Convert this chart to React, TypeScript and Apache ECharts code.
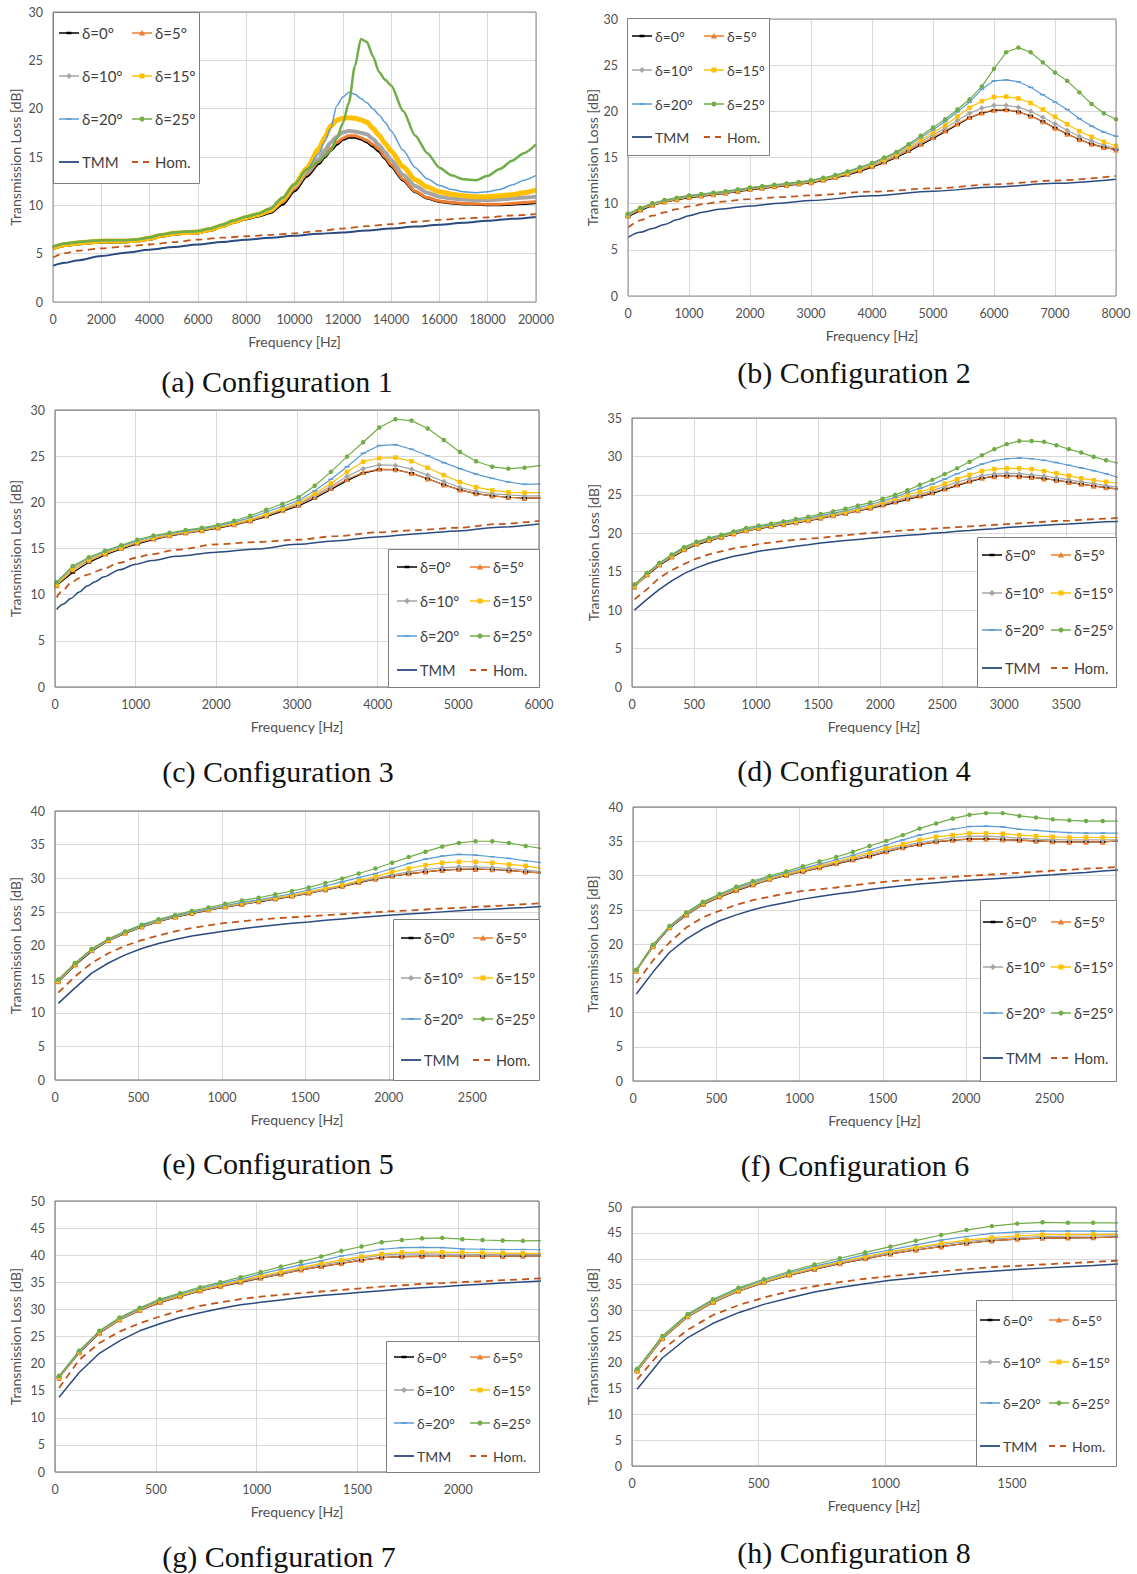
import { useEffect, useRef } from 'react';
import * as echarts from 'echarts';

// ---------------- DATA ----------------
// Configuration 1
const c1Freq = [0,500,1000,1500,2000,2500,3000,3500,4000,4500,5000,5500,6000,6500,7000,7500,8000,8500,9000,9500,10000,10500,11000,11250,11500,11750,12000,12250,12500,12750,13000,13250,13500,13750,14000,14500,15000,15500,16000,16500,17000,17500,18000,18500,19000,19500,20000];
const c1D0 = [5.5,5.85,6.0,6.1,6.2,6.2,6.2,6.3,6.5,6.8,7.0,7.1,7.15,7.4,7.8,8.25,8.6,8.9,9.25,10.1,11.5,13.0,14.3,15.0,15.7,16.3,16.8,17.05,17.05,16.85,16.55,16.1,15.6,14.85,14.05,12.6,11.4,10.75,10.4,10.25,10.15,10.1,10.05,10.05,10.1,10.2,10.3];
const c1D5 = [5.55,5.9,6.05,6.15,6.25,6.25,6.25,6.35,6.55,6.85,7.05,7.15,7.2,7.45,7.85,8.3,8.7,9.0,9.35,10.3,11.7,13.2,14.5,15.2,15.9,16.5,16.95,17.2,17.2,17.0,16.7,16.3,15.8,15.0,14.2,12.7,11.45,10.8,10.45,10.3,10.2,10.15,10.1,10.1,10.2,10.3,10.4];
const c1D10 = [5.6,5.95,6.1,6.2,6.3,6.3,6.3,6.4,6.6,6.9,7.1,7.2,7.25,7.5,7.9,8.35,8.75,9.05,9.5,10.5,11.9,13.4,14.8,15.7,16.5,17.1,17.55,17.7,17.65,17.5,17.35,16.85,16.25,15.5,14.7,13.15,12.0,11.3,10.9,10.7,10.6,10.55,10.55,10.6,10.7,10.8,10.9];
const c1D15 = [5.6,5.95,6.1,6.2,6.3,6.3,6.3,6.4,6.6,6.9,7.1,7.2,7.25,7.5,7.9,8.35,8.75,9.05,9.5,10.6,12.1,13.8,15.8,17.0,18.2,18.8,19.0,19.05,19.0,18.85,18.6,17.95,17.25,16.4,15.6,14.0,12.65,11.9,11.4,11.15,11.0,10.9,10.9,11.0,11.1,11.3,11.6];
const c1D20 = [5.65,6.0,6.15,6.25,6.35,6.35,6.35,6.45,6.65,6.95,7.15,7.25,7.3,7.55,7.95,8.4,8.8,9.1,9.6,10.7,12.1,13.7,15.3,16.6,18.0,20.3,21.2,21.7,21.5,21.05,20.6,20.0,19.35,18.6,17.7,15.7,13.9,12.75,12.05,11.65,11.4,11.3,11.4,11.65,12.1,12.6,13.1];
const c1D25 = [5.75,6.05,6.2,6.3,6.4,6.4,6.4,6.5,6.7,7.0,7.2,7.3,7.35,7.6,8.0,8.45,8.85,9.15,9.7,10.8,12.2,13.7,14.5,15.1,15.7,16.9,18.5,20.6,24.4,27.2,26.9,25.4,23.8,23.0,22.4,19.75,17.2,15.4,13.9,13.1,12.7,12.6,13.05,13.75,14.6,15.4,16.3];
const c1Ref = [0,500,1000,2000,3000,4000,5000,6000,7000,8000,9000,10000,11000,12000,13000,14000,15000,16000,17000,18000,19000,20000];
const c1Tmm = [3.75,4.05,4.3,4.75,5.1,5.4,5.7,5.95,6.2,6.45,6.65,6.85,7.05,7.2,7.4,7.6,7.8,8.0,8.2,8.4,8.6,8.8];
const c1Hom = [4.6,5.05,5.3,5.55,5.75,5.95,6.2,6.45,6.65,6.8,6.95,7.1,7.35,7.6,7.85,8.05,8.3,8.5,8.65,8.75,8.95,9.1];

// Configuration 2
const c2Freq = [0,200,400,600,800,1000,1200,1400,1600,1800,2000,2200,2400,2600,2800,3000,3200,3400,3600,3800,4000,4200,4400,4600,4800,5000,5200,5400,5600,5800,6000,6200,6400,6600,6800,7000,7200,7400,7600,7800,8000];
const c2D0 = [8.6,9.25,9.8,10.15,10.4,10.65,10.8,10.95,11.1,11.3,11.5,11.65,11.8,11.95,12.1,12.25,12.5,12.8,13.1,13.5,13.95,14.45,15.0,15.65,16.35,17.05,17.8,18.55,19.3,19.8,20.1,20.15,19.95,19.5,18.9,18.2,17.55,16.95,16.45,16.1,15.85];
const c2D5 = [8.7,9.35,9.85,10.2,10.45,10.7,10.85,11.0,11.15,11.35,11.55,11.7,11.85,12.0,12.15,12.3,12.55,12.85,13.2,13.6,14.05,14.55,15.1,15.8,16.5,17.2,17.9,18.65,19.35,19.85,20.15,20.2,19.95,19.5,18.9,18.2,17.55,16.95,16.45,16.1,15.85];
const c2D10 = [8.75,9.4,9.9,10.25,10.5,10.75,10.9,11.05,11.2,11.4,11.6,11.75,11.9,12.05,12.2,12.35,12.6,12.9,13.25,13.7,14.15,14.65,15.25,15.95,16.7,17.45,18.2,19.0,19.8,20.35,20.65,20.65,20.45,20.0,19.35,18.65,17.95,17.3,16.8,16.35,16.0];
const c2D15 = [8.75,9.45,9.95,10.3,10.55,10.8,10.95,11.1,11.25,11.45,11.65,11.8,11.95,12.1,12.25,12.4,12.65,12.95,13.3,13.75,14.2,14.75,15.35,16.1,16.9,17.7,18.5,19.45,20.4,21.1,21.55,21.6,21.4,20.9,20.2,19.4,18.6,17.85,17.25,16.7,16.25];
const c2D20 = [8.85,9.5,10.0,10.35,10.6,10.85,11.0,11.15,11.3,11.5,11.7,11.85,12.0,12.15,12.3,12.5,12.75,13.05,13.45,13.9,14.3,14.9,15.5,16.3,17.15,18.0,18.9,19.95,21.0,22.4,23.3,23.4,23.2,22.6,21.8,21.0,20.2,19.2,18.4,17.75,17.3];
const c2D25 = [8.9,9.55,10.05,10.4,10.65,10.9,11.05,11.2,11.35,11.55,11.75,11.9,12.05,12.2,12.35,12.55,12.8,13.1,13.5,13.95,14.4,15.0,15.6,16.45,17.35,18.25,19.15,20.2,21.3,22.7,24.6,26.4,26.9,26.4,25.3,24.2,23.3,22.05,20.8,19.8,19.15];
const c2Ref = [0,200,400,600,800,1000,1250,1500,2000,2500,3000,4000,5000,6000,7000,8000];
const c2Tmm = [6.35,6.9,7.3,7.75,8.25,8.7,9.1,9.4,9.75,10.05,10.35,10.85,11.35,11.8,12.2,12.65];
const c2Hom = [7.4,8.2,8.7,9.05,9.4,9.7,9.95,10.2,10.5,10.7,10.9,11.3,11.65,12.1,12.5,13.0];

// Configuration 3
const c3Freq = [20,220,420,620,820,1020,1220,1420,1620,1820,2020,2220,2420,2620,2820,3020,3220,3420,3620,3820,4020,4220,4420,4620,4820,5020,5220,5420,5620,5820,6020];
const c3D0 = [11.0,12.4,13.5,14.3,14.95,15.5,15.95,16.35,16.65,16.9,17.2,17.55,17.95,18.45,19.05,19.6,20.45,21.4,22.35,23.15,23.55,23.55,23.15,22.55,21.9,21.35,20.95,20.7,20.55,20.45,20.45];
const c3D5 = [11.0,12.7,13.7,14.45,15.05,15.6,16.05,16.4,16.7,16.95,17.25,17.6,18.0,18.55,19.15,19.75,20.6,21.55,22.5,23.25,23.6,23.55,23.15,22.55,21.9,21.35,20.95,20.7,20.55,20.45,20.45];
const c3D10 = [11.1,12.75,13.75,14.5,15.05,15.65,16.1,16.45,16.75,17.0,17.3,17.65,18.1,18.6,19.2,19.85,20.75,21.75,22.8,23.65,24.05,24.0,23.6,22.95,22.25,21.6,21.2,20.95,20.8,20.7,20.7];
const c3D15 = [11.1,12.8,13.8,14.5,15.1,15.7,16.15,16.5,16.8,17.05,17.35,17.7,18.15,18.7,19.3,20.0,20.95,22.05,23.3,24.4,24.8,24.85,24.45,23.75,22.95,22.2,21.65,21.3,21.1,21.05,21.05];
const c3D20 = [11.3,13.0,13.95,14.65,15.25,15.85,16.3,16.6,16.9,17.15,17.45,17.85,18.35,18.95,19.55,20.2,21.25,22.5,23.85,25.3,26.15,26.25,25.75,25.05,24.3,23.65,23.05,22.6,22.2,21.95,22.0];
const c3D25 = [11.35,13.1,14.05,14.75,15.35,15.95,16.4,16.7,17.0,17.25,17.55,18.0,18.55,19.2,19.85,20.55,21.8,23.3,24.95,26.5,28.1,29.0,28.85,28.0,26.75,25.45,24.45,23.85,23.65,23.75,24.0];
const c3Ref = [20,100,200,300,400,500,600,800,1000,1200,1500,2000,2500,3000,3500,4000,4500,5000,5500,6000];
const c3Tmm = [8.4,8.95,9.6,10.3,10.95,11.4,11.9,12.7,13.3,13.7,14.15,14.6,14.95,15.45,15.85,16.25,16.6,16.9,17.3,17.65];
const c3Hom = [9.7,10.5,11.3,11.8,12.15,12.5,12.8,13.45,14.0,14.4,14.85,15.45,15.7,15.95,16.35,16.75,17.0,17.25,17.65,18.0];

// Configuration 4
const c4Freq = [20,120,220,320,420,520,620,720,820,920,1020,1120,1220,1320,1420,1520,1620,1720,1820,1920,2020,2120,2220,2320,2420,2520,2620,2720,2820,2920,3020,3120,3220,3320,3420,3520,3620,3720,3820,3920];
const c4D0 = [13.1,14.5,15.8,16.85,17.8,18.5,19.0,19.45,19.9,20.3,20.6,20.85,21.1,21.35,21.6,21.95,22.25,22.55,22.9,23.25,23.6,24.0,24.4,24.8,25.2,25.7,26.2,26.7,27.15,27.4,27.45,27.4,27.3,27.1,26.9,26.65,26.4,26.15,25.95,25.75];
const c4D5 = [13.0,14.6,15.9,16.95,17.9,18.6,19.1,19.5,19.95,20.35,20.65,20.9,21.15,21.4,21.65,22.0,22.3,22.6,22.95,23.3,23.7,24.1,24.5,24.9,25.3,25.8,26.3,26.8,27.2,27.4,27.45,27.4,27.3,27.1,26.9,26.65,26.4,26.15,25.95,25.75];
const c4D10 = [13.1,14.65,15.95,17.0,17.95,18.65,19.15,19.55,20.0,20.4,20.7,20.95,21.2,21.45,21.7,22.05,22.35,22.65,23.0,23.4,23.8,24.25,24.7,25.1,25.55,26.1,26.65,27.1,27.5,27.7,27.8,27.75,27.6,27.45,27.2,26.95,26.7,26.45,26.2,26.0];
const c4D15 = [13.15,14.7,16.0,17.05,18.0,18.7,19.2,19.6,20.05,20.45,20.75,21.0,21.3,21.55,21.8,22.15,22.45,22.75,23.1,23.5,24.0,24.5,25.0,25.4,25.85,26.45,27.05,27.6,28.1,28.35,28.45,28.45,28.35,28.1,27.8,27.5,27.15,26.9,26.7,26.5];
const c4D20 = [13.25,14.75,16.05,17.15,18.1,18.8,19.3,19.7,20.15,20.55,20.85,21.1,21.4,21.7,21.95,22.3,22.6,22.95,23.3,23.75,24.2,24.7,25.3,25.85,26.4,27.05,27.75,28.4,29.0,29.45,29.7,29.8,29.7,29.5,29.2,28.85,28.5,28.15,27.75,27.25];
const c4D25 = [13.35,14.85,16.15,17.25,18.2,18.9,19.4,19.8,20.25,20.7,21.0,21.25,21.55,21.85,22.15,22.5,22.85,23.2,23.6,24.0,24.5,25.0,25.6,26.3,26.95,27.7,28.45,29.3,30.15,30.95,31.6,32.0,32.0,31.9,31.45,30.95,30.5,29.95,29.5,29.1];
const c4Tmm = [10.0,11.4,12.7,13.8,14.75,15.5,16.1,16.6,17.0,17.3,17.65,17.9,18.1,18.3,18.5,18.75,18.9,19.05,19.2,19.35,19.5,19.6,19.75,19.85,20.0,20.1,20.25,20.35,20.5,20.6,20.75,20.85,20.95,21.05,21.15,21.2,21.3,21.4,21.5,21.55];
const c4Hom = [11.4,12.7,14.2,15.2,16.0,16.7,17.25,17.65,18.05,18.3,18.6,18.8,19.0,19.15,19.3,19.4,19.6,19.75,19.9,20.05,20.15,20.3,20.4,20.5,20.6,20.7,20.8,20.9,21.0,21.1,21.2,21.3,21.4,21.5,21.6,21.65,21.75,21.85,21.9,22.0];

// Configuration 5
const c5Freq = [20,120,220,320,420,520,620,720,820,920,1020,1120,1220,1320,1420,1520,1620,1720,1820,1920,2020,2120,2220,2320,2420,2520,2620,2720,2820,2920];
const c5D0 = [14.6,17.05,19.15,20.7,21.8,22.75,23.55,24.2,24.75,25.25,25.7,26.1,26.5,26.9,27.3,27.75,28.25,28.75,29.35,29.85,30.3,30.65,30.95,31.2,31.3,31.35,31.3,31.15,30.95,30.8];
const c5D5 = [14.65,17.15,19.25,20.75,21.85,22.8,23.6,24.25,24.8,25.3,25.75,26.15,26.55,26.95,27.35,27.8,28.3,28.8,29.4,29.9,30.35,30.7,30.95,31.2,31.35,31.35,31.3,31.15,30.95,30.8];
const c5D10 = [14.7,17.2,19.3,20.8,21.9,22.85,23.65,24.3,24.85,25.35,25.8,26.2,26.6,27.0,27.4,27.85,28.35,28.9,29.5,30.0,30.5,30.95,31.3,31.55,31.7,31.7,31.6,31.45,31.2,30.95];
const c5D15 = [14.75,17.25,19.35,20.85,21.95,22.9,23.7,24.35,24.9,25.4,25.85,26.3,26.7,27.1,27.5,28.0,28.5,29.0,29.65,30.25,30.95,31.45,31.95,32.3,32.45,32.45,32.3,32.05,31.85,31.45];
const c5D20 = [14.85,17.3,19.4,20.9,22.0,22.95,23.75,24.4,24.95,25.45,25.95,26.4,26.8,27.25,27.7,28.25,28.85,29.45,30.1,30.7,31.45,32.2,32.85,33.3,33.55,33.45,33.2,32.95,32.6,32.3];
const c5D25 = [14.95,17.4,19.5,21.0,22.1,23.1,23.9,24.55,25.15,25.65,26.2,26.7,27.1,27.6,28.1,28.65,29.3,29.95,30.7,31.45,32.3,33.15,33.95,34.7,35.25,35.5,35.5,35.25,34.8,34.4];
const c5Tmm = [11.4,13.7,15.9,17.4,18.6,19.55,20.3,20.9,21.4,21.8,22.15,22.5,22.8,23.05,23.3,23.5,23.75,23.95,24.15,24.35,24.55,24.7,24.85,25.0,25.15,25.3,25.4,25.55,25.65,25.8];
const c5Hom = [13.0,15.4,17.4,18.85,19.95,20.8,21.5,22.1,22.6,23.0,23.35,23.6,23.85,24.05,24.2,24.35,24.5,24.65,24.8,24.95,25.1,25.2,25.35,25.5,25.6,25.75,25.85,26.0,26.15,26.3];

// Configuration 6
const c6Freq = [20,120,220,320,420,520,620,720,820,920,1020,1120,1220,1320,1420,1520,1620,1720,1820,1920,2020,2120,2220,2320,2420,2520,2620,2720,2820,2920];
const c6D0 = [16.1,19.6,22.35,24.2,25.75,26.85,27.8,28.6,29.4,30.0,30.55,31.1,31.7,32.25,32.8,33.45,34.05,34.5,34.9,35.15,35.3,35.35,35.25,35.15,35.05,34.95,34.9,34.9,34.9,35.05];
const c6D5 = [16.05,19.65,22.4,24.25,25.8,26.9,27.85,28.65,29.45,30.05,30.6,31.15,31.75,32.3,32.85,33.5,34.1,34.55,34.95,35.2,35.3,35.35,35.25,35.15,35.05,34.95,34.9,34.9,34.9,35.05];
const c6D10 = [16.1,19.7,22.45,24.35,25.9,27.0,28.0,28.8,29.5,30.15,30.75,31.3,31.9,32.5,33.1,33.7,34.3,34.8,35.15,35.55,35.7,35.75,35.65,35.45,35.3,35.25,35.2,35.2,35.2,35.2];
const c6D15 = [16.15,19.75,22.5,24.45,26.0,27.1,28.1,28.9,29.6,30.25,30.85,31.45,32.05,32.7,33.35,34.0,34.55,35.2,35.65,35.9,36.15,36.15,36.1,35.9,35.75,35.65,35.55,35.55,35.55,35.55];
const c6D20 = [16.2,19.8,22.55,24.5,26.05,27.2,28.2,29.0,29.75,30.4,31.05,31.65,32.3,32.95,33.7,34.45,35.2,35.9,36.4,36.75,37.15,37.2,37.1,36.75,36.6,36.4,36.25,36.2,36.2,36.2];
const c6D25 = [16.25,19.9,22.65,24.6,26.15,27.3,28.35,29.2,29.95,30.6,31.35,32.05,32.7,33.45,34.3,35.05,35.9,36.85,37.6,38.3,38.85,39.1,39.1,38.7,38.45,38.2,38.05,37.95,37.95,37.95];
const c6Tmm = [12.7,15.9,18.8,20.7,22.2,23.4,24.25,25.0,25.6,26.05,26.55,26.95,27.3,27.6,27.95,28.25,28.5,28.75,28.95,29.15,29.3,29.45,29.6,29.75,29.95,30.1,30.3,30.45,30.65,30.8];
const c6Hom = [14.3,17.6,20.25,22.4,23.9,24.85,25.7,26.4,26.9,27.4,27.75,28.0,28.25,28.55,28.85,29.1,29.3,29.45,29.6,29.8,29.95,30.1,30.25,30.4,30.55,30.7,30.85,31.0,31.1,31.25];

// Configuration 7
const c7Freq = [20,120,220,320,420,520,620,720,820,920,1020,1120,1220,1320,1420,1520,1620,1720,1820,1920,2020,2120,2220,2320,2420];
const c7D0 = [17.4,22.0,25.6,28.05,29.8,31.25,32.35,33.4,34.2,35.0,35.75,36.5,37.3,37.9,38.5,39.1,39.55,39.75,39.8,39.8,39.8,39.8,39.8,39.85,39.85];
const c7D5 = [17.3,22.05,25.65,28.1,29.85,31.3,32.4,33.45,34.25,35.05,35.8,36.55,37.3,37.95,38.5,39.1,39.55,39.75,39.8,39.8,39.8,39.8,39.8,39.85,39.85];
const c7D10 = [17.45,22.15,25.8,28.2,29.95,31.45,32.5,33.55,34.4,35.2,36.0,36.75,37.5,38.2,38.8,39.45,40.0,40.2,40.25,40.2,40.15,40.15,40.1,40.1,40.1];
const c7D15 = [17.5,22.2,25.85,28.25,30.0,31.55,32.6,33.65,34.5,35.35,36.2,36.95,37.7,38.5,39.1,39.75,40.25,40.5,40.55,40.55,40.5,40.45,40.4,40.35,40.35];
const c7D20 = [17.6,22.25,25.9,28.35,30.15,31.7,32.8,33.85,34.75,35.6,36.55,37.4,38.2,38.95,39.85,40.5,41.1,41.4,41.45,41.4,41.15,41.1,41.05,41.05,41.0];
const c7D25 = [17.75,22.4,26.05,28.5,30.3,31.9,33.0,34.1,35.0,35.95,36.9,37.9,38.8,39.75,40.8,41.6,42.4,42.8,43.1,43.2,42.95,42.8,42.7,42.65,42.7];
const c7Tmm = [13.8,18.35,21.9,24.2,26.05,27.35,28.5,29.4,30.15,30.85,31.3,31.75,32.2,32.55,32.85,33.15,33.45,33.75,34.0,34.2,34.45,34.65,34.85,35.05,35.25];
const c7Hom = [15.5,20.7,23.8,25.9,27.45,28.7,29.75,30.65,31.3,31.9,32.35,32.7,33.0,33.3,33.6,33.9,34.2,34.45,34.7,34.85,35.05,35.2,35.4,35.55,35.75];

// Configuration 8
const c8Freq = [20,120,220,320,420,520,620,720,820,920,1020,1120,1220,1320,1420,1520,1620,1720,1820,1920];
const c8D0 = [18.3,24.55,28.8,31.55,33.75,35.4,36.8,37.95,39.05,40.0,40.95,41.7,42.35,43.0,43.5,43.8,44.0,44.05,44.1,44.25];
const c8D5 = [18.35,24.6,28.85,31.6,33.8,35.45,36.85,38.0,39.1,40.05,40.95,41.7,42.35,43.0,43.5,43.8,44.0,44.05,44.1,44.25];
const c8D10 = [18.45,24.75,28.95,31.7,33.9,35.55,36.95,38.15,39.25,40.25,41.2,42.0,42.75,43.3,43.8,44.1,44.3,44.35,44.4,44.45];
const c8D15 = [18.5,24.8,29.0,31.8,34.0,35.65,37.05,38.3,39.4,40.45,41.45,42.2,43.0,43.6,44.1,44.45,44.65,44.65,44.7,44.7];
const c8D20 = [18.7,24.95,29.15,32.0,34.2,35.85,37.3,38.6,39.65,40.8,41.75,42.7,43.6,44.3,44.9,45.2,45.35,45.35,45.35,45.3];
const c8D25 = [18.75,25.1,29.35,32.2,34.4,36.05,37.55,38.9,40.1,41.25,42.35,43.5,44.6,45.55,46.3,46.8,47.05,46.95,46.95,46.95];
const c8Tmm = [14.8,20.85,24.8,27.55,29.6,31.2,32.45,33.6,34.45,35.2,35.85,36.35,36.8,37.25,37.6,37.95,38.2,38.45,38.7,39.0];
const c8Hom = [16.7,22.45,26.3,29.15,31.05,32.5,33.75,34.7,35.5,36.15,36.65,37.1,37.55,38.0,38.4,38.65,38.9,39.15,39.4,39.65];

const SERIES_NAMES = ['δ=0°', 'δ=5°', 'δ=10°', 'δ=15°', 'δ=20°', 'δ=25°', 'TMM', 'Hom.'];
const CAPTIONS = ['(a) Configuration 1', '(b) Configuration 2', '(c) Configuration 3', '(d) Configuration 4',
  '(e) Configuration 5', '(f) Configuration 6', '(g) Configuration 7', '(h) Configuration 8'];
const X_TITLE = 'Frequency [Hz]';
const Y_TITLE = 'Transmission Loss [dB]';

// ---------------- STYLE / LAYOUT ----------------
const COLORS = ['#000000', '#ED7D31', '#A5A5A5', '#FFC000', '#5B9BD5', '#70AD47', '#2B4A80', '#C0561B'];
const SYMBOLS = ['rect', 'triangle', 'diamond', 'rect', 'rect', 'circle'];
const SYMBOL_SIZES: any[] = [[5, 2.5], 5.5, 5.5, 4.5, [5, 1.5], 4.5];
const DENSE_WIDTHS = [3, 3, 4, 5, 1.5, 2.5];
const SANS = 'Lato, "Noto Sans", "DejaVu Sans", sans-serif';
const SERIF = '"Liberation Serif", "DejaVu Serif", serif';

const PANELS = [
  { freq: c1Freq, ref: c1Ref, d: [c1D0, c1D5, c1D10, c1D15, c1D20, c1D25], tmm: c1Tmm, hom: c1Hom, xMax: 20000, xInt: 2000, yMax: 30, dense: true,
    grid: { left: 53, top: 12, width: 483, height: 290 }, yGap: 31, border: '#8c8c8c',
    lg: { x: 53, y: 12, w: 146, h: 171, rows: [33, 76, 119, 162], c1: 59, c2: 132, fs: 15 }, cap: [277, 381] },
  { freq: c2Freq, ref: c2Ref, d: [c2D0, c2D5, c2D10, c2D15, c2D20, c2D25], tmm: c2Tmm, hom: c2Hom, xMax: 8000, xInt: 1000, yMax: 30, dense: false,
    grid: { left: 628, top: 19, width: 488, height: 277 }, yGap: 29, border: '#8c8c8c',
    lg: { x: 627, y: 18, w: 142, h: 137, rows: [36, 70, 104, 137], c1: 632, c2: 704, fs: 14 }, cap: [854, 372] },
  { freq: c3Freq, ref: c3Ref, d: [c3D0, c3D5, c3D10, c3D15, c3D20, c3D25], tmm: c3Tmm, hom: c3Hom, xMax: 6000, xInt: 1000, yMax: 30, dense: false,
    grid: { left: 55, top: 410, width: 484, height: 277 }, yGap: 33, border: '#6b6b6b',
    lg: { x: 388, y: 549, w: 151, h: 138, rows: [567, 601, 636, 670], c1: 397, c2: 470, fs: 14.5 }, cap: [278, 771] },
  { freq: c4Freq, ref: c4Freq, d: [c4D0, c4D5, c4D10, c4D15, c4D20, c4D25], tmm: c4Tmm, hom: c4Hom, xMax: 3900, xInt: 500, yMax: 35, dense: false,
    grid: { left: 632, top: 418, width: 484, height: 269 }, yGap: 32, border: '#6b6b6b',
    lg: { x: 977, y: 537, w: 139, h: 150, rows: [555, 593, 630, 668], c1: 982, c2: 1051, fs: 14.5 }, cap: [854, 770] },
  { freq: c5Freq, ref: c5Freq, d: [c5D0, c5D5, c5D10, c5D15, c5D20, c5D25], tmm: c5Tmm, hom: c5Hom, xMax: 2900, xInt: 500, yMax: 40, dense: false,
    grid: { left: 55, top: 811, width: 484, height: 269 }, yGap: 33, border: '#6b6b6b',
    lg: { x: 393, y: 919, w: 146, h: 161, rows: [938, 978, 1019, 1060], c1: 401, c2: 473, fs: 14.5 }, cap: [278, 1163] },
  { freq: c6Freq, ref: c6Freq, d: [c6D0, c6D5, c6D10, c6D15, c6D20, c6D25], tmm: c6Tmm, hom: c6Hom, xMax: 2900, xInt: 500, yMax: 40, dense: false,
    grid: { left: 633, top: 807, width: 483, height: 274 }, yGap: 33.5, border: '#6b6b6b',
    lg: { x: 980, y: 900, w: 136, h: 181, rows: [922, 967, 1013, 1058], c1: 983, c2: 1051, fs: 14.5 }, cap: [855, 1165] },
  { freq: c7Freq, ref: c7Freq, d: [c7D0, c7D5, c7D10, c7D15, c7D20, c7D25], tmm: c7Tmm, hom: c7Hom, xMax: 2400, xInt: 500, yMax: 50, dense: false,
    grid: { left: 55, top: 1201, width: 484, height: 271 }, yGap: 33, border: '#6b6b6b',
    lg: { x: 386, y: 1341, w: 153, h: 131, rows: [1357, 1390, 1423, 1456], c1: 394, c2: 470, fs: 14 }, cap: [279, 1556] },
  { freq: c8Freq, ref: c8Freq, d: [c8D0, c8D5, c8D10, c8D15, c8D20, c8D25], tmm: c8Tmm, hom: c8Hom, xMax: 1910, xInt: 500, yMax: 50, dense: false,
    grid: { left: 632, top: 1207, width: 484, height: 259 }, yGap: 33, border: '#6b6b6b',
    lg: { x: 976, y: 1300, w: 140, h: 166, rows: [1320, 1362, 1403, 1446], c1: 980, c2: 1049, fs: 14 }, cap: [854, 1552] },
];

function legendMarker(k: number, cx: number, cy: number) {
  const fill = COLORS[k];
  const z = 102;
  switch (k) {
    case 0: return { type: 'rect', z, shape: { x: cx - 2.5, y: cy - 1.25, width: 5, height: 2.5 }, style: { fill } };
    case 1: return { type: 'polygon', z, shape: { points: [[cx, cy - 3], [cx + 3.2, cy + 2.5], [cx - 3.2, cy + 2.5]] }, style: { fill } };
    case 2: return { type: 'polygon', z, shape: { points: [[cx, cy - 3], [cx + 3, cy], [cx, cy + 3], [cx - 3, cy]] }, style: { fill } };
    case 3: return { type: 'rect', z, shape: { x: cx - 2.5, y: cy - 2.5, width: 5, height: 5 }, style: { fill } };
    case 4: return { type: 'rect', z, shape: { x: cx - 2.5, y: cy - 0.9, width: 5, height: 1.8 }, style: { fill } };
    case 5: return { type: 'circle', z, shape: { cx, cy, r: 2.5 }, style: { fill } };
    default: return null;
  }
}

function buildOption() {
  const grids: any[] = [];
  const xAxes: any[] = [];
  const yAxes: any[] = [];
  const series: any[] = [];
  const elements: any[] = [];

  PANELS.forEach((p, i) => {
    grids.push({ ...p.grid, show: true, borderColor: p.border, borderWidth: 1, backgroundColor: 'transparent', z: 5, containLabel: false, outerBoundsMode: 'none' });
    xAxes.push({
      type: 'value', gridIndex: i, min: 0, max: p.xMax, interval: p.xInt,
      name: X_TITLE, nameLocation: 'middle', nameGap: 32,
      nameTextStyle: { fontFamily: SANS, fontSize: 14, color: '#505050' },
      axisLine: { show: false }, axisTick: { show: false },
      axisLabel: { fontFamily: SANS, fontSize: 12.5, color: '#505050', margin: 11,
        formatter: (v: number) => (v % p.xInt === 0 ? String(v) : '') },
      splitLine: { show: true, lineStyle: { color: '#d9d9d9', width: 1 } },
    });
    yAxes.push({
      type: 'value', gridIndex: i, min: 0, max: p.yMax, interval: 5,
      name: Y_TITLE, nameLocation: 'middle', nameGap: p.yGap, nameRotate: 90,
      nameTextStyle: { fontFamily: SANS, fontSize: 14, color: '#505050' },
      axisLine: { show: false }, axisTick: { show: false },
      axisLabel: { fontFamily: SANS, fontSize: 12.5, color: '#505050', margin: 10 },
      splitLine: { show: true, lineStyle: { color: '#d9d9d9', width: 1 } },
    });
    p.d.forEach((vals, k) => {
      series.push({
        type: 'line', name: SERIES_NAMES[k], xAxisIndex: i, yAxisIndex: i,
        data: p.freq.map((f, j) => [f, vals[j]]),
        symbol: SYMBOLS[k], symbolSize: SYMBOL_SIZES[k], showSymbol: !p.dense,
        smooth: p.dense ? 0.25 : false, smoothMonotone: 'x',
        lineStyle: { color: COLORS[k], width: p.dense ? DENSE_WIDTHS[k] : 1.2 },
        itemStyle: { color: COLORS[k], borderWidth: 0 },
        silent: true, animation: false, clip: true,
      });
    });
    const smoothRef = p.ref !== p.freq;
    series.push({
      type: 'line', name: SERIES_NAMES[6], xAxisIndex: i, yAxisIndex: i,
      data: p.ref.map((f, j) => [f, p.tmm[j]]), symbol: 'none', showSymbol: false,
      smooth: smoothRef ? 0.3 : false, smoothMonotone: 'x',
      lineStyle: { color: COLORS[6], width: p.dense ? 2 : 1.5 }, silent: true, clip: true,
    });
    series.push({
      type: 'line', name: SERIES_NAMES[7], xAxisIndex: i, yAxisIndex: i,
      data: p.ref.map((f, j) => [f, p.hom[j]]), symbol: 'none', showSymbol: false,
      smooth: smoothRef ? 0.3 : false, smoothMonotone: 'x',
      lineStyle: { color: COLORS[7], width: 1.8, type: [7, 5] }, silent: true, clip: true,
    });

    // legend box
    const L = p.lg;
    elements.push({ type: 'rect', z: 100, shape: { x: L.x + 0.5, y: L.y + 0.5, width: L.w, height: L.h },
      style: { fill: '#ffffff', stroke: '#7f7f7f', lineWidth: 1 } });
    SERIES_NAMES.forEach((name, k) => {
      const r = Math.floor(k / 2);
      const c = k % 2;
      const y = L.rows[r];
      const x0 = c === 0 ? L.c1 : L.c2;
      elements.push({ type: 'line', z: 101, shape: { x1: x0, y1: y, x2: x0 + 20, y2: y },
        style: { stroke: COLORS[k], lineWidth: k >= 6 ? 1.8 : 1.5, lineDash: k === 7 ? [6, 5] : null } });
      const m = legendMarker(k, x0 + 10, y);
      if (m) elements.push(m);
      elements.push({ type: 'text', z: 102, x: x0 + 23, y,
        style: { text: name, fill: '#404040', font: `${L.fs}px ${SANS}`, fontSize: L.fs, fontFamily: SANS,
          textAlign: 'left', textVerticalAlign: 'middle', align: 'left', verticalAlign: 'middle' } });
    });
    // caption
    elements.push({ type: 'text', z: 102, x: p.cap[0], y: p.cap[1],
      style: { text: CAPTIONS[i], fill: '#111111', font: `30px ${SERIF}`, fontSize: 30, fontFamily: SERIF,
        textAlign: 'center', textVerticalAlign: 'middle', align: 'center', verticalAlign: 'middle' } });
  });

  return {
    animation: false,
    backgroundColor: '#ffffff',
    grid: grids,
    xAxis: xAxes,
    yAxis: yAxes,
    series,
    graphic: { elements },
  };
}

export default function App() {
  const ref = useRef<HTMLDivElement>(null);
  useEffect(() => {
    if (!ref.current) return;
    const chart = echarts.init(ref.current, null, { renderer: 'svg', width: 1137, height: 1574 });
    chart.setOption(buildOption() as any);
    return () => chart.dispose();
  }, []);
  return (
    <div
      ref={ref}
      style={{ position: 'absolute', left: 0, top: 0, width: 1137, height: 1574, background: '#ffffff' }}
    />
  );
}
